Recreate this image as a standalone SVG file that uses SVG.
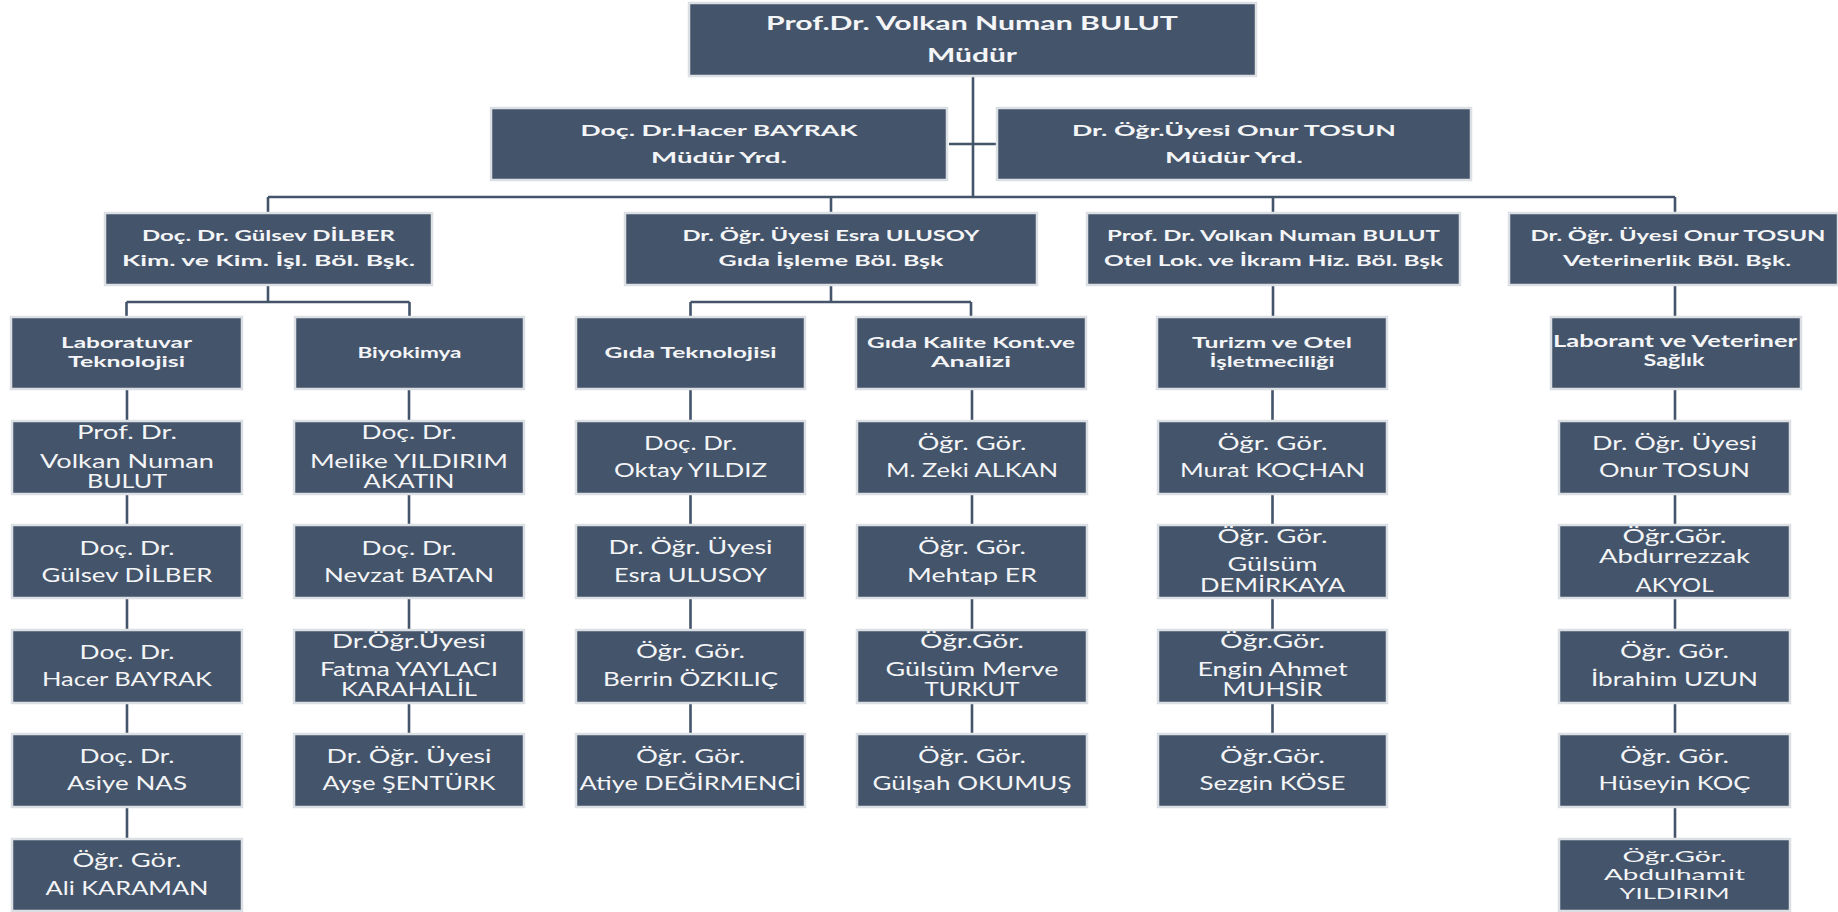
<svg xmlns="http://www.w3.org/2000/svg" width="1838" height="912" viewBox="0 0 1838 912">
<style>
.box{fill:#44546A;stroke:#DCDFE3;stroke-width:2.5}
.ln{stroke:#44546A;stroke-width:2.6;fill:none}
text{fill:#F4F5F7;text-anchor:middle;font-family:Lato,"Open Sans","Liberation Sans",sans-serif}
.b19{font-size:19px;font-weight:bold}
.b16{font-size:16px;font-weight:bold}
.b15{font-size:15px;font-weight:bold}
.b14{font-size:14.5px;font-weight:bold}
.b17{font-size:17px;font-weight:bold}
.r{font-size:18.5px}
.r16{font-size:16px}
</style>
<rect width="1838" height="912" fill="#FFFFFF"/>
<g id="connectors">
<path class="ln" d="M973 76V197M949 144H997M268 197H1675M268 197V213M831 197V213M1273 197V213M1675 197V213"/>
<path class="ln" d="M268 285V302M126.5 302H409.5M126.5 302V317M409.5 302V317M831 285V302M690.5 302H971M690.5 302V317M971 302V317M1273 285V317M1675 285V317"/>
<path class="ln" d="M127 389V421M127 494V525M127 598V630M127 703V734M127 807V839"/>
<path class="ln" d="M409 389V421M409 494V525M409 598V630M409 703V734"/>
<path class="ln" d="M690.5 389V421M690.5 494V525M690.5 598V630M690.5 703V734"/>
<path class="ln" d="M972 389V421M972 494V525M972 598V630M972 703V734"/>
<path class="ln" d="M1272.5 389V421M1272.5 494V525M1272.5 598V630M1272.5 703V734"/>
<path class="ln" d="M1675 389V421M1675 494V525M1675 598V630M1675 703V734M1675 807V839"/>
</g>
<g id="mudur"><rect class="box" x="689" y="3" width="567" height="73"/>
<text class="b19" x="972" y="30" textLength="412" lengthAdjust="spacingAndGlyphs">Prof.Dr. Volkan Numan BULUT</text>
<text class="b19" x="972" y="62" textLength="90" lengthAdjust="spacingAndGlyphs">Müdür</text></g>
<g id="yrd1"><rect class="box" x="491" y="108" width="456" height="72"/>
<text class="b16" x="719" y="136" textLength="277" lengthAdjust="spacingAndGlyphs">Doç. Dr.Hacer BAYRAK</text>
<text class="b16" x="719" y="163" textLength="136" lengthAdjust="spacingAndGlyphs">Müdür Yrd.</text></g>
<g id="yrd2"><rect class="box" x="997" y="108" width="474" height="72"/>
<text class="b16" x="1234" y="136" textLength="324" lengthAdjust="spacingAndGlyphs">Dr. Öğr.Üyesi Onur TOSUN</text>
<text class="b16" x="1234" y="163" textLength="138" lengthAdjust="spacingAndGlyphs">Müdür Yrd.</text></g>
<g id="dept1"><rect class="box" x="105" y="213" width="327" height="72"/>
<text class="b15" x="268.5" y="241" textLength="253" lengthAdjust="spacingAndGlyphs">Doç. Dr. Gülsev DİLBER</text>
<text class="b15" x="268.5" y="266" textLength="293" lengthAdjust="spacingAndGlyphs">Kim. ve Kim. İşl. Böl. Bşk.</text></g>
<g id="dept2"><rect class="box" x="625" y="213" width="412" height="72"/>
<text class="b15" x="831" y="241" textLength="297" lengthAdjust="spacingAndGlyphs">Dr. Öğr. Üyesi Esra ULUSOY</text>
<text class="b15" x="831" y="266" textLength="225" lengthAdjust="spacingAndGlyphs">Gıda İşleme Böl. Bşk</text></g>
<g id="dept3"><rect class="box" x="1087" y="213" width="373" height="72"/>
<text class="b15" x="1273.5" y="241" textLength="333" lengthAdjust="spacingAndGlyphs">Prof. Dr. Volkan Numan BULUT</text>
<text class="b15" x="1273.5" y="266" textLength="339" lengthAdjust="spacingAndGlyphs">Otel Lok. ve İkram Hiz. Böl. Bşk</text></g>
<g id="dept4"><rect class="box" x="1509" y="213" width="329" height="72"/>
<text class="b15" x="1678" y="241" textLength="295" lengthAdjust="spacingAndGlyphs">Dr. Öğr. Üyesi Onur TOSUN</text>
<text class="b15" x="1677" y="266" textLength="228" lengthAdjust="spacingAndGlyphs">Veterinerlik Böl. Bşk.</text></g>
<g id="labtek"><rect class="box" x="11" y="317" width="231" height="72"/>
<text class="b14" x="126.5" y="348" textLength="131" lengthAdjust="spacingAndGlyphs">Laboratuvar</text>
<text class="b14" x="126.5" y="367" textLength="117" lengthAdjust="spacingAndGlyphs">Teknolojisi</text></g>
<g id="biyokimya"><rect class="box" x="295" y="317" width="229" height="72"/>
<text class="b14" x="409.5" y="358" textLength="104" lengthAdjust="spacingAndGlyphs">Biyokimya</text></g>
<g id="gidatek"><rect class="box" x="576" y="317" width="229" height="72"/>
<text class="b15" x="690.5" y="358" textLength="172" lengthAdjust="spacingAndGlyphs">Gıda Teknolojisi</text></g>
<g id="gidakalite"><rect class="box" x="856" y="317" width="230" height="72"/>
<text class="b15" x="971" y="348" textLength="208" lengthAdjust="spacingAndGlyphs">Gıda Kalite Kont.ve</text>
<text class="b15" x="971" y="367" textLength="80" lengthAdjust="spacingAndGlyphs">Analizi</text></g>
<g id="turizm"><rect class="box" x="1157" y="317" width="230" height="72"/>
<text class="b15" x="1272" y="348" textLength="160" lengthAdjust="spacingAndGlyphs">Turizm ve Otel</text>
<text class="b15" x="1272" y="367" textLength="125" lengthAdjust="spacingAndGlyphs">İşletmeciliği</text></g>
<g id="laborant"><rect class="box" x="1551" y="317" width="250" height="72"/>
<text class="b17" x="1675" y="347" textLength="244" lengthAdjust="spacingAndGlyphs">Laborant ve Veteriner</text>
<text class="b17" x="1674" y="366" textLength="61" lengthAdjust="spacingAndGlyphs">Sağlık</text></g>

<g id="c1r1"><rect class="box" x="12" y="421" width="230" height="73"/>
<text class="r" x="127" y="439" textLength="100" lengthAdjust="spacingAndGlyphs">Prof. Dr.</text>
<text class="r" x="127" y="468" textLength="174" lengthAdjust="spacingAndGlyphs">Volkan Numan</text>
<text class="r" x="127" y="488" textLength="80" lengthAdjust="spacingAndGlyphs">BULUT</text></g>
<g id="c1r2"><rect class="box" x="12" y="525" width="230" height="73"/>
<text class="r" x="127" y="555" textLength="95" lengthAdjust="spacingAndGlyphs">Doç. Dr.</text>
<text class="r" x="127" y="582" textLength="171" lengthAdjust="spacingAndGlyphs">Gülsev DİLBER</text></g>
<g id="c1r3"><rect class="box" x="12" y="630" width="230" height="73"/>
<text class="r" x="127" y="659" textLength="95" lengthAdjust="spacingAndGlyphs">Doç. Dr.</text>
<text class="r" x="127" y="686" textLength="170" lengthAdjust="spacingAndGlyphs">Hacer BAYRAK</text></g>
<g id="c1r4"><rect class="box" x="12" y="734" width="230" height="73"/>
<text class="r" x="127" y="763" textLength="95" lengthAdjust="spacingAndGlyphs">Doç. Dr.</text>
<text class="r" x="127" y="790" textLength="120" lengthAdjust="spacingAndGlyphs">Asiye NAS</text></g>
<g id="c1r5"><rect class="box" x="12" y="839" width="230" height="72"/>
<text class="r" x="127" y="867" textLength="109" lengthAdjust="spacingAndGlyphs">Öğr. Gör.</text>
<text class="r" x="127" y="895" textLength="163" lengthAdjust="spacingAndGlyphs">Ali KARAMAN</text></g>

<g id="c2r1"><rect class="box" x="294" y="421" width="230" height="73"/>
<text class="r" x="409" y="439" textLength="95" lengthAdjust="spacingAndGlyphs">Doç. Dr.</text>
<text class="r" x="409" y="468" textLength="198" lengthAdjust="spacingAndGlyphs">Melike YILDIRIM</text>
<text class="r" x="409" y="488" textLength="91" lengthAdjust="spacingAndGlyphs">AKATIN</text></g>
<g id="c2r2"><rect class="box" x="294" y="525" width="230" height="73"/>
<text class="r" x="409" y="555" textLength="95" lengthAdjust="spacingAndGlyphs">Doç. Dr.</text>
<text class="r" x="409" y="582" textLength="170" lengthAdjust="spacingAndGlyphs">Nevzat BATAN</text></g>
<g id="c2r3"><rect class="box" x="294" y="630" width="230" height="73"/>
<text class="r" x="409" y="648" textLength="154" lengthAdjust="spacingAndGlyphs">Dr.Öğr.Üyesi</text>
<text class="r" x="409" y="676" textLength="178" lengthAdjust="spacingAndGlyphs">Fatma YAYLACI</text>
<text class="r" x="409" y="696" textLength="136" lengthAdjust="spacingAndGlyphs">KARAHALİL</text></g>
<g id="c2r4"><rect class="box" x="294" y="734" width="230" height="73"/>
<text class="r" x="409" y="763" textLength="165" lengthAdjust="spacingAndGlyphs">Dr. Öğr. Üyesi</text>
<text class="r" x="409" y="790" textLength="173" lengthAdjust="spacingAndGlyphs">Ayşe ŞENTÜRK</text></g>

<g id="c3r1"><rect class="box" x="576" y="421" width="229" height="73"/>
<text class="r" x="690.5" y="450" textLength="93" lengthAdjust="spacingAndGlyphs">Doç. Dr.</text>
<text class="r" x="690.5" y="477" textLength="153" lengthAdjust="spacingAndGlyphs">Oktay YILDIZ</text></g>
<g id="c3r2"><rect class="box" x="576" y="525" width="229" height="73"/>
<text class="r" x="690.5" y="554" textLength="164" lengthAdjust="spacingAndGlyphs">Dr. Öğr. Üyesi</text>
<text class="r" x="690.5" y="582" textLength="153" lengthAdjust="spacingAndGlyphs">Esra ULUSOY</text></g>
<g id="c3r3"><rect class="box" x="576" y="630" width="229" height="73"/>
<text class="r" x="690.5" y="658" textLength="109" lengthAdjust="spacingAndGlyphs">Öğr. Gör.</text>
<text class="r" x="690.5" y="686" textLength="175" lengthAdjust="spacingAndGlyphs">Berrin ÖZKILIÇ</text></g>
<g id="c3r4"><rect class="box" x="576" y="734" width="229" height="73"/>
<text class="r" x="690.5" y="763" textLength="109" lengthAdjust="spacingAndGlyphs">Öğr. Gör.</text>
<text class="r" x="690.5" y="790" textLength="222" lengthAdjust="spacingAndGlyphs">Atiye DEĞİRMENCİ</text></g>

<g id="c4r1"><rect class="box" x="857" y="421" width="230" height="73"/>
<text class="r" x="972" y="450" textLength="109" lengthAdjust="spacingAndGlyphs">Öğr. Gör.</text>
<text class="r" x="972" y="477" textLength="172" lengthAdjust="spacingAndGlyphs">M. Zeki ALKAN</text></g>
<g id="c4r2"><rect class="box" x="857" y="525" width="230" height="73"/>
<text class="r" x="972" y="554" textLength="108" lengthAdjust="spacingAndGlyphs">Öğr. Gör.</text>
<text class="r" x="972" y="582" textLength="130" lengthAdjust="spacingAndGlyphs">Mehtap ER</text></g>
<g id="c4r3"><rect class="box" x="857" y="630" width="230" height="73"/>
<text class="r" x="972" y="648" textLength="104" lengthAdjust="spacingAndGlyphs">Öğr.Gör.</text>
<text class="r" x="972" y="676" textLength="173" lengthAdjust="spacingAndGlyphs">Gülsüm Merve</text>
<text class="r" x="972" y="696" textLength="95" lengthAdjust="spacingAndGlyphs">TURKUT</text></g>
<g id="c4r4"><rect class="box" x="857" y="734" width="230" height="73"/>
<text class="r" x="972" y="763" textLength="108" lengthAdjust="spacingAndGlyphs">Öğr. Gör.</text>
<text class="r" x="972" y="790" textLength="199" lengthAdjust="spacingAndGlyphs">Gülşah OKUMUŞ</text></g>

<g id="c5r1"><rect class="box" x="1158" y="421" width="229" height="73"/>
<text class="r" x="1272.5" y="450" textLength="110" lengthAdjust="spacingAndGlyphs">Öğr. Gör.</text>
<text class="r" x="1272.5" y="477" textLength="185" lengthAdjust="spacingAndGlyphs">Murat KOÇHAN</text></g>
<g id="c5r2"><rect class="box" x="1158" y="525" width="229" height="73"/>
<text class="r" x="1272.5" y="543" textLength="110" lengthAdjust="spacingAndGlyphs">Öğr. Gör.</text>
<text class="r" x="1272.5" y="571" textLength="90" lengthAdjust="spacingAndGlyphs">Gülsüm</text>
<text class="r" x="1272.5" y="592" textLength="145" lengthAdjust="spacingAndGlyphs">DEMİRKAYA</text></g>
<g id="c5r3"><rect class="box" x="1158" y="630" width="229" height="73"/>
<text class="r" x="1272.5" y="648" textLength="105" lengthAdjust="spacingAndGlyphs">Öğr.Gör.</text>
<text class="r" x="1272.5" y="676" textLength="150" lengthAdjust="spacingAndGlyphs">Engin Ahmet</text>
<text class="r" x="1272.5" y="696" textLength="100" lengthAdjust="spacingAndGlyphs">MUHSİR</text></g>
<g id="c5r4"><rect class="box" x="1158" y="734" width="229" height="73"/>
<text class="r" x="1272.5" y="763" textLength="105" lengthAdjust="spacingAndGlyphs">Öğr.Gör.</text>
<text class="r" x="1272.5" y="790" textLength="146" lengthAdjust="spacingAndGlyphs">Sezgin KÖSE</text></g>

<g id="c6r1"><rect class="box" x="1559" y="421" width="231" height="73"/>
<text class="r" x="1674.5" y="450" textLength="165" lengthAdjust="spacingAndGlyphs">Dr. Öğr. Üyesi</text>
<text class="r" x="1674.5" y="477" textLength="151" lengthAdjust="spacingAndGlyphs">Onur TOSUN</text></g>
<g id="c6r2"><rect class="box" x="1559" y="525" width="231" height="73"/>
<text class="r" x="1674.5" y="543" textLength="104" lengthAdjust="spacingAndGlyphs">Öğr.Gör.</text>
<text class="r" x="1674.5" y="563" textLength="151" lengthAdjust="spacingAndGlyphs">Abdurrezzak</text>
<text class="r" x="1674.5" y="592" textLength="78" lengthAdjust="spacingAndGlyphs">AKYOL</text></g>
<g id="c6r3"><rect class="box" x="1559" y="630" width="231" height="73"/>
<text class="r" x="1674.5" y="658" textLength="109" lengthAdjust="spacingAndGlyphs">Öğr. Gör.</text>
<text class="r" x="1674.5" y="686" textLength="167" lengthAdjust="spacingAndGlyphs">İbrahim UZUN</text></g>
<g id="c6r4"><rect class="box" x="1559" y="734" width="231" height="73"/>
<text class="r" x="1674.5" y="763" textLength="109" lengthAdjust="spacingAndGlyphs">Öğr. Gör.</text>
<text class="r" x="1674.5" y="790" textLength="152" lengthAdjust="spacingAndGlyphs">Hüseyin KOÇ</text></g>
<g id="c6r5"><rect class="box" x="1559" y="839" width="231" height="72"/>
<text class="r16" x="1674.5" y="862" textLength="104" lengthAdjust="spacingAndGlyphs">Öğr.Gör.</text>
<text class="r16" x="1674.5" y="880" textLength="141" lengthAdjust="spacingAndGlyphs">Abdulhamit</text>
<text class="r16" x="1674.5" y="899" textLength="110" lengthAdjust="spacingAndGlyphs">YILDIRIM</text></g>
</svg>
